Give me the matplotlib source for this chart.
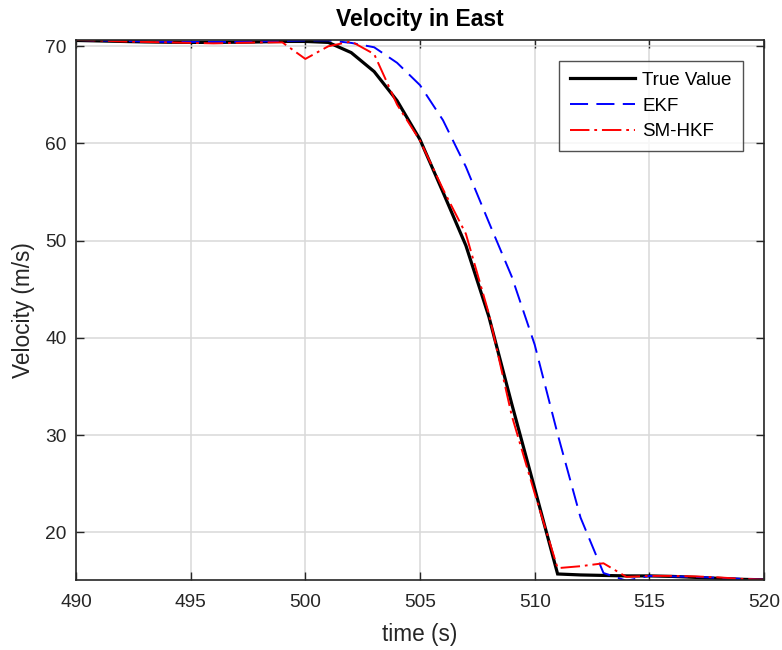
import matplotlib
matplotlib.use("Agg")
import matplotlib.pyplot as plt
import numpy as np

plt.rcParams["font.family"] = ["Liberation Sans", "DejaVu Sans"]
plt.rcParams["lines.scale_dashes"] = False

# time axis (s)
time_s = np.arange(490, 521)

true_value = [70.60, 70.55, 70.50, 70.45, 70.42, 70.40, 70.40, 70.42, 70.45, 70.50,
              70.50, 70.40, 69.35, 67.40, 64.40, 60.40, 55.00, 49.50, 42.20, 33.20,
              24.50, 15.70, 15.60, 15.55, 15.50, 15.50, 15.45, 15.35, 15.25, 15.15,
              15.10]
ekf = [70.65, 70.60, 70.55, 70.50, 70.45, 70.45, 70.45, 70.45, 70.50, 70.55,
       70.60, 70.60, 70.35, 69.90, 68.30, 66.00, 62.40, 57.60, 51.90, 46.30,
       39.30, 30.10, 21.50, 15.80, 15.00, 15.50, 15.45, 15.40, 15.30, 15.20,
       15.10]
sm_hkf = [70.65, 70.60, 70.50, 70.45, 70.40, 70.35, 70.30, 70.35, 70.40, 70.40,
          68.70, 70.00, 70.50, 69.20, 64.00, 60.30, 55.30, 50.70, 42.50, 32.00,
          24.00, 16.30, 16.50, 16.80, 15.40, 15.50, 15.50, 15.45, 15.35, 15.20,
          15.10]

x_ticks = [490, 495, 500, 505, 510, 515, 520]
y_ticks = [20, 30, 40, 50, 60, 70]

fig = plt.figure(figsize=(7.82, 6.5), dpi=100)
ax = fig.add_axes([0.0972, 0.1077, 0.8798, 0.8308])

ax.plot(time_s, true_value, color="black", linewidth=2.3, label="True Value",
        solid_joinstyle="miter")
ax.plot(time_s, ekf, color="blue", linewidth=1.4, dashes=(13, 6), label="EKF")
ax.plot(time_s, sm_hkf, color="red", linewidth=1.4, dashes=(14, 3.5, 2, 3.5),
        label="SM-HKF")

ax.set_xlim(490, 520)
ax.set_ylim(15.08, 70.65)
ax.set_xticks(x_ticks)
ax.set_yticks(y_ticks)
ax.grid(True, color="#d9d9d9", linewidth=1.1)
ax.set_axisbelow(True)
ax.tick_params(direction="in", top=True, right=True, length=6, width=1.0,
               labelsize=13.8, colors="#262626")
ax.tick_params(axis="x", pad=10)
ax.tick_params(axis="y", pad=7)
for s in ax.spines.values():
    s.set_linewidth(1.2)
    s.set_color("#262626")

ax.set_xlabel("time (s)", fontsize=16.3, color="#262626", labelpad=9)
ax.set_ylabel("Velocity (m/s)", fontsize=16.3, color="#262626", labelpad=7)
ax.set_title("Velocity in East", fontsize=16.5, fontweight="bold", pad=10)

leg = ax.legend(loc="upper right", bbox_to_anchor=(0.969, 0.9617), borderaxespad=0,
                fontsize=13.5, frameon=True, fancybox=False, handlelength=3.5,
                borderpad=0.6, labelspacing=0.45, handletextpad=0.35)
leg.get_frame().set_edgecolor("#262626")
leg.get_frame().set_linewidth(1.0)

fig.savefig("out.png", dpi=100)
